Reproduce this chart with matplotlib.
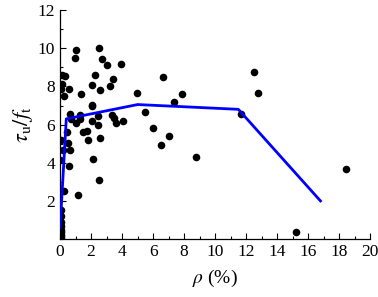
import matplotlib
matplotlib.use("Agg")
import matplotlib.pyplot as plt
from matplotlib.ticker import MultipleLocator

plt.rcParams['font.family'] = ['Liberation Serif', 'DejaVu Serif']
plt.rcParams['mathtext.fontset'] = 'stix'

# scatter data: reinforcement ratio rho (%) and tau_u / f_t
rho = [0.1, 0.3, 0.1, 0.06, 0.28, 0.6, 1.0, 0.99, 1.35, 2.54, 2.73, 3.0, 3.9,
       2.26, 2.06, 2.58, 3.4, 3.23, 4.95, 6.67, 7.85, 7.33, 5.48, 6.02, 7.03,
       6.52, 8.77, 12.54, 12.8, 11.66, 18.45, 15.2, 2.09, 0.65, 0.7, 1.0,
       1.3, 1.3, 2.43, 2.04, 2.43, 3.38, 3.61, 4.04, 1.5, 1.72, 1.83, 2.58,
       0.06, 0.21, 0.65, 2.11, 0.0, 0.58, 2.52, 0.28, 1.14, 0.43, 0.5, 2.04,
       3.45, 0.05, 0.05, 0.03, 0.05, 0.03, 0.05, 0.03, 0.05]
ratio = [8.6, 8.55, 8.15, 7.85, 7.5, 7.84, 9.93, 9.49, 7.6, 10.02, 9.46, 9.11, 9.16,
         8.59, 8.06, 7.8, 8.41, 8.0, 7.68, 8.47, 7.6, 7.17, 6.67, 5.8, 5.39,
         4.92, 4.28, 8.73, 7.63, 6.53, 3.65, 0.37, 6.96, 6.55, 6.3, 6.06,
         6.5, 6.3, 6.46, 6.19, 5.97, 6.49, 6.06, 6.18, 5.6, 5.67, 5.18, 5.3,
         5.18, 4.66, 4.66, 4.22, 4.14, 3.84, 3.09, 2.53, 2.3, 5.6, 5.04, 7.02,
         6.35, 1.5, 1.2, 0.9, 0.7, 0.5, 0.35, 0.2, 0.1]

# model curve
curve_rho = [0.0, 0.4, 5.0, 11.5, 16.8]
curve_ratio = [0.6, 6.3, 7.05, 6.8, 2.0]

fig = plt.figure(figsize=(3.78, 2.97), dpi=100)
ax = fig.add_axes([0.159, 0.195, 0.820, 0.771])

ax.scatter(rho, ratio, s=30, color='black', zorder=2, linewidths=0)
ax.plot(curve_rho, curve_ratio, color='#0000ff', lw=2.0, zorder=3)

ax.set_xlim(0, 20)
ax.set_ylim(0, 12)
ax.xaxis.set_major_locator(MultipleLocator(2))
ax.xaxis.set_minor_locator(MultipleLocator(1))
ax.yaxis.set_major_locator(MultipleLocator(2))
ax.yaxis.set_minor_locator(MultipleLocator(1))
ax.set_yticks([2, 4, 6, 8, 10, 12])

for s in ['top', 'right']:
    ax.spines[s].set_visible(False)
for s in ['left', 'bottom']:
    ax.spines[s].set_linewidth(0.9)

ax.tick_params(which='major', direction='in', length=4, width=0.8, labelsize=12.5)
ax.tick_params(which='minor', direction='in', length=2.5, width=0.8)

ax.set_xlabel(r'$\rho$ (%)', fontsize=14, labelpad=6)
ax.set_ylabel(r'$\tau_{\mathrm{u}}/f_{\mathrm{t}}$', fontsize=16, labelpad=2)

fig.savefig('out.png', dpi=100)
